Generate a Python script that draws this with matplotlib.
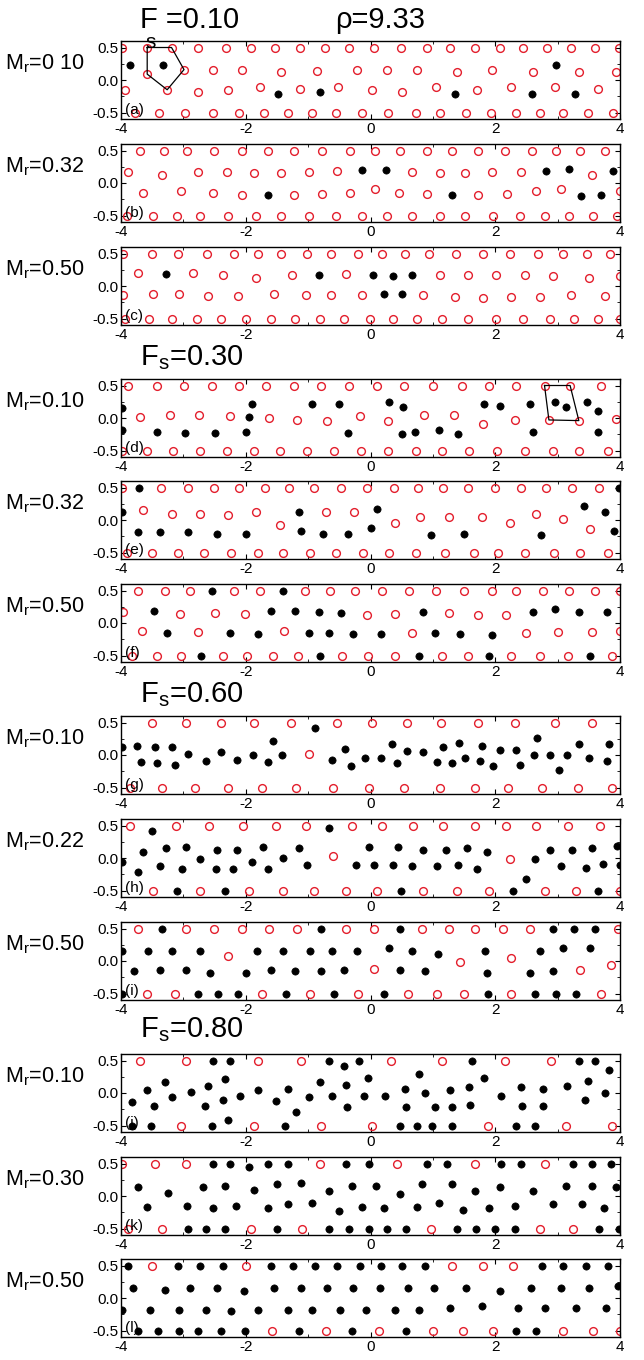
import numpy as np
import matplotlib
matplotlib.use("Agg")
import matplotlib.pyplot as plt
from matplotlib.ticker import MultipleLocator

plt.rcParams["font.family"] = ["Liberation Sans", "DejaVu Sans"]
plt.rcParams["mathtext.fontset"] = "custom"
plt.rcParams["mathtext.rm"] = "Liberation Sans"
plt.rcParams["mathtext.it"] = "Liberation Sans:italic"
plt.rcParams["axes.unicode_minus"] = False

# ---- data (x, y); top row y=0.5, bottom row y=-0.5 ----
# panel (a)  Fs=0.10, Mr=0.10
a_open_top = [-3.98, -3.58, -3.19, -2.76, -2.32, -1.91, -1.53, -1.13, -0.73, -0.35, 0.05,
              0.49, 0.90, 1.28, 1.67, 2.07, 2.45, 2.83, 3.21, 3.60, 3.99]
a_open_bot = [-3.78, -3.39, -2.98, -2.52, -2.11, -1.71, -1.32, -0.93, -0.55, -0.13, 0.28,
              0.73, 1.12, 1.53, 1.93, 2.33, 2.72, 3.09, 3.48, 3.88]
a_open_mid = [(-3.58, 0.09), (-2.99, 0.16), (-2.52, 0.16), (-2.06, 0.16), (-1.43, 0.12),
              (-0.86, 0.14), (-0.21, 0.16), (0.26, 0.16), (0.75, 0.16), (1.39, 0.12),
              (1.94, 0.16), (2.60, 0.12), (3.34, 0.12), (3.94, 0.12),
              (-3.93, -0.15), (-3.26, -0.15), (-2.76, -0.18), (-2.28, -0.16), (-1.77, -0.11),
              (-1.13, -0.14), (-0.52, -0.10), (0.03, -0.16), (0.51, -0.18), (1.05, -0.11),
              (1.70, -0.16), (2.25, -0.10), (2.95, -0.10), (3.65, -0.14)]
a_fill_top = []
a_fill_bot = []
a_fill_mid = [(-3.85, 0.23), (-3.33, 0.23), (2.98, 0.23), (-1.48, -0.22), (-0.81, -0.19),
              (1.36, -0.22), (2.59, -0.22), (3.28, -0.22)]
a_poly = [(-3.58, 0.5), (-3.19, 0.5), (-2.99, 0.16), (-3.26, -0.15), (-3.58, 0.09)]

# panel (b)  Mr=0.32
b_open_top = [-3.70, -3.31, -2.94, -2.51, -2.06, -1.64, -1.22, -0.78, -0.33, 0.07, 0.47,
              0.90, 1.30, 1.72, 2.16, 2.59, 2.97, 3.36, 3.76]
b_open_bot = [-3.91, -3.49, -3.10, -2.73, -2.29, -1.84, -1.44, -0.98, -0.56, -0.13, 0.26,
              0.67, 1.11, 1.52, 1.96, 2.39, 2.79, 3.18, 3.56, 3.95]
b_open_mid = [(-3.88, 0.17), (-3.35, 0.13), (-2.76, 0.17), (-2.30, 0.17), (-1.86, 0.15),
              (-1.44, 0.15), (-0.98, 0.17), (-0.54, 0.18), (0.66, 0.17), (1.11, 0.15),
              (1.51, 0.15), (1.95, 0.17), (2.41, 0.17), (3.55, 0.13),
              (-3.64, -0.15), (-3.04, -0.13), (-2.53, -0.16), (-2.06, -0.19), (-1.23, -0.19),
              (-0.77, -0.17), (-0.33, -0.15), (0.07, -0.09), (0.45, -0.15), (0.90, -0.17),
              (1.72, -0.19), (2.19, -0.17), (2.65, -0.13), (3.06, -0.09), (4.0, -0.13)]
b_fill_top = []
b_fill_bot = []
b_fill_mid = [(-0.13, 0.20), (0.25, 0.20), (2.81, 0.18), (3.18, 0.22), (3.89, 0.18),
              (-1.65, -0.18), (1.30, -0.18), (3.38, -0.20), (3.70, -0.18)]

# panel (c)  Mr=0.50
c_open_top = [-3.97, -3.50, -3.08, -2.62, -2.19, -1.81, -1.43, -1.02, -0.63, -0.20, 0.18,
              0.55, 0.94, 1.37, 1.80, 2.24, 2.68, 3.08, 3.47, 3.84]
c_open_bot = [-3.94, -3.55, -3.18, -2.78, -2.39, -1.99, -1.60, -1.21, -0.81, -0.42, -0.01,
              0.36, 0.75, 1.14, 1.57, 2.02, 2.45, 2.88, 3.26, 3.65, 4.0]
c_open_mid = [(-3.73, 0.20), (-2.84, 0.20), (-2.36, 0.17), (-1.84, 0.13), (-1.26, 0.17),
              (-0.40, 0.18), (1.11, 0.17), (1.57, 0.17), (2.02, 0.17), (2.47, 0.17),
              (2.93, 0.16), (3.50, 0.13), (4.0, 0.16),
              (-3.97, -0.14), (-3.49, -0.12), (-3.07, -0.13), (-2.60, -0.16), (-2.12, -0.16),
              (-1.55, -0.13), (-1.03, -0.14), (-0.64, -0.14), (-0.14, -0.14), (0.84, -0.14),
              (1.35, -0.17), (1.80, -0.18), (2.25, -0.17), (2.71, -0.17), (3.21, -0.14),
              (3.76, -0.16)]
c_fill_top = []
c_fill_bot = []
c_fill_mid = [(-3.28, 0.19), (-0.83, 0.17), (0.04, 0.17), (0.36, 0.15), (0.67, 0.17),
              (0.21, -0.13), (0.51, -0.12)]

# panel (d)  Fs=0.30, Mr=0.10
d_open_top = [-3.88, -3.43, -2.99, -2.54, -2.11, -1.67, -1.22, -0.79, -0.34, 0.10, 0.54,
              1.01, 1.47, 1.90, 2.33, 2.79, 3.20, 3.69]
d_open_bot = [-3.98, -3.58, -3.17, -2.74, -2.30, -1.87, -1.45, -1.02, -0.59, -0.16, 0.28,
              0.73, 1.14, 1.58, 2.03, 2.48, 2.93, 3.35, 3.80]
d_open_mid = [(-3.70, 0.01), (-3.22, 0.04), (-2.75, 0.05), (-2.26, 0.03), (-1.62, 0.00),
              (-1.18, -0.03), (-0.69, -0.05), (-0.17, 0.03), (0.28, -0.05), (0.85, 0.05),
              (1.34, 0.05), (1.81, -0.09), (2.32, -0.03), (2.86, -0.03), (3.34, -0.04),
              (3.94, -0.01)]
d_fill_top = []
d_fill_bot = []
d_fill_mid = [(-3.98, 0.15), (-1.90, 0.21), (-0.94, 0.21), (-0.51, 0.21), (0.29, 0.25),
              (0.52, 0.17), (1.82, 0.21), (2.07, 0.19), (2.56, 0.21), (2.96, 0.25),
              (3.14, 0.17), (3.47, 0.25), (3.64, 0.11), (-1.95, 0.01),
              (-3.99, -0.19), (-3.43, -0.21), (-2.97, -0.23), (-2.50, -0.23), (-1.99, -0.21),
              (-0.36, -0.23), (0.50, -0.25), (0.72, -0.21), (1.10, -0.19), (1.40, -0.25),
              (2.60, -0.21), (3.64, -0.21)]
d_poly = [(2.79, 0.5), (3.20, 0.5), (3.34, -0.04), (2.86, -0.03)]

# panel (e)  Mr=0.32
e_open_top = [-3.99, -3.36, -2.93, -2.51, -2.11, -1.69, -1.30, -0.90, -0.48, -0.05, 0.37,
              0.76, 1.17, 1.57, 2.00, 2.41, 2.81, 3.23, 3.66]
e_open_bot = [-3.91, -3.51, -3.09, -2.67, -2.23, -1.81, -1.40, -0.97, -0.55, -0.12, 0.30,
              0.73, 1.20, 1.66, 2.05, 2.48, 2.94, 3.36, 3.81]
e_open_mid = [(-3.64, 0.16), (-3.18, 0.10), (-2.73, 0.10), (-2.28, 0.07), (-1.83, 0.12),
              (-0.72, 0.12), (-0.27, 0.12), (0.79, 0.05), (1.26, 0.05), (1.79, 0.04),
              (2.65, 0.10), (3.09, 0.01), (-1.45, -0.07), (0.39, -0.05), (2.24, -0.04),
              (3.52, -0.14)]
e_fill_top = [-3.71, 3.98]
e_fill_bot = []
e_fill_mid = [(-3.98, 0.13), (-1.14, 0.13), (0.10, 0.17), (3.43, 0.21), (3.76, 0.13),
              (-3.73, -0.19), (-3.37, -0.19), (-2.93, -0.19), (-2.46, -0.21), (-1.99, -0.21),
              (-1.11, -0.17), (-0.76, -0.21), (-0.36, -0.21), (0.00, -0.13), (0.97, -0.23),
              (1.50, -0.21), (2.73, -0.23), (3.91, -0.17)]

# panel (f)  Mr=0.50
f_open_top = [-3.72, -3.30, -2.89, -2.19, -1.77, -1.05, -0.65, -0.25, 0.18, 0.62, 1.05,
              1.50, 1.94, 2.34, 2.76, 3.19, 3.60, 4.0]
f_open_bot = [-3.83, -3.42, -3.04, -2.37, -1.98, -1.57, -1.16, -0.45, -0.04, 0.39, 1.14,
              1.56, 2.26, 2.72, 3.17, 3.87]
f_open_mid = [(-3.96, 0.17), (-3.06, 0.14), (-2.49, 0.16), (-2.01, 0.14), (-0.06, 0.13),
              (0.39, 0.14), (1.26, 0.16), (1.72, 0.12), (2.17, 0.12), (-3.67, -0.12),
              (-2.76, -0.14), (-1.39, -0.13), (0.66, -0.16), (2.49, -0.16), (3.00, -0.14),
              (3.55, -0.14), (4.0, -0.12)]
f_fill_top = [-2.54, -1.41]
f_fill_bot = [-2.71, -0.81, 0.78, 1.90, 3.52]
f_fill_mid = [(-3.47, 0.19), (-1.59, 0.19), (-1.21, 0.19), (-0.83, 0.17), (-0.47, 0.15),
              (0.84, 0.17), (2.60, 0.17), (2.96, 0.21), (3.34, 0.17), (3.79, 0.17),
              (-3.26, -0.15), (-2.25, -0.15), (-1.80, -0.17), (-0.99, -0.15), (-0.66, -0.15),
              (-0.28, -0.17), (0.17, -0.17), (1.04, -0.15), (1.44, -0.17), (1.95, -0.19)]

# panel (g)  Fs=0.60, Mr=0.10
g_open_top = [-3.50, -2.95, -2.40, -1.86, -1.27, -0.54, 0.02, 0.58, 1.13, 1.72, 2.32,
              2.96, 3.55]
g_open_bot = [-3.86, -3.34, -2.81, -2.29, -1.74, -1.19, -0.60, -0.03, 0.54, 1.11, 1.67,
              2.20, 2.75, 3.32, 3.87]
g_open_mid = [(-0.98, 0.01)]
g_fill_top = []
g_fill_bot = []
g_fill_mid = [(-0.89, 0.42), (-3.98, 0.13), (-3.75, 0.14), (-3.68, -0.11), (-3.45, 0.13),
              (-3.43, -0.13), (-3.18, 0.13), (-3.13, -0.15), (-2.92, 0.02), (-2.63, -0.09),
              (-2.40, 0.04), (-2.14, -0.07), (-1.88, 0.0), (-1.65, -0.11), (-1.57, 0.22),
              (-1.42, 0.0), (-0.61, -0.07), (-0.41, 0.10), (-0.32, -0.17), (-0.09, -0.05),
              (0.17, -0.05), (0.34, 0.17), (0.42, -0.13), (0.59, 0.06), (0.84, 0.04),
              (1.06, -0.11), (1.16, 0.12), (1.31, -0.13), (1.42, 0.19), (1.52, -0.05),
              (1.75, -0.09), (1.78, 0.14), (1.97, -0.17), (2.07, 0.08), (2.34, 0.08),
              (2.40, -0.15), (2.62, 0.0), (2.67, 0.26), (2.88, 0.0), (3.03, -0.23),
              (3.15, 0.0), (3.35, 0.17), (3.51, -0.05), (3.79, -0.09), (3.83, 0.17)]

# panel (h)  Mr=0.22
h_open_top = [-3.85, -3.12, -2.59, -2.04, -1.51, -1.03, -0.30, 0.18, 0.68, 1.17, 1.67,
              2.17, 2.65, 3.17, 3.68]
h_open_bot = [-3.49, -2.73, -1.94, -1.41, -0.90, -0.40, 0.11, 0.84, 1.38, 1.90, 2.79,
              3.29, 4.0]
h_open_mid = [(-0.60, 0.03), (2.24, -0.01)]
h_fill_top = []
h_fill_bot = [-3.11, -2.33, 0.49, 2.29, 3.64]
h_fill_mid = [(-3.50, 0.42), (-0.67, 0.46), (-3.98, -0.06), (-3.73, -0.21), (-3.65, 0.10),
              (-3.37, -0.13), (-3.28, 0.15), (-3.03, -0.17), (-2.95, 0.17), (-2.73, -0.02),
              (-2.47, -0.17), (-2.46, 0.13), (-2.20, -0.17), (-2.14, 0.13), (-1.90, -0.06),
              (-1.72, 0.17), (-1.64, -0.17), (-1.40, 0.0), (-1.14, 0.15), (-1.02, -0.11),
              (-0.24, -0.11), (-0.02, 0.17), (0.06, -0.11), (0.36, -0.11), (0.44, 0.17),
              (0.66, -0.13), (0.84, 0.13), (1.06, -0.13), (1.21, 0.13), (1.40, -0.11),
              (1.55, 0.15), (1.70, -0.17), (1.86, 0.10), (2.49, -0.32), (2.64, -0.02),
              (2.88, 0.13), (3.05, -0.13), (3.23, 0.13), (3.45, -0.15), (3.55, 0.15),
              (3.72, -0.09), (3.95, 0.19), (4.0, -0.11)]

# panel (i)  Mr=0.50
i_open_top = [-3.73, -2.95, -2.51, -2.06, -1.62, -1.18, -0.40, 0.05, 0.83, 1.26, 1.68,
              2.13, 2.56, 3.96]
i_open_bot = [-3.59, -3.14, -1.74, -0.97, -0.20, 0.60, 1.07, 1.50, 2.26, 3.69]
i_open_mid = [(-2.28, 0.07), (1.44, -0.02), (2.26, 0.04), (3.86, -0.06), (0.05, -0.12),
              (3.36, -0.14)]
i_fill_top = [-3.35, -0.79, 0.47, 2.92, 3.26, 3.60]
i_fill_bot = [-3.98, -2.77, -2.44, -2.12, -1.36, -0.59, 0.21, 1.88, 2.64, 2.97, 3.30]
i_fill_mid = [(-3.98, 0.16), (-3.56, 0.16), (-3.18, 0.16), (-2.73, 0.16), (-1.82, 0.16),
              (-1.40, 0.16), (-0.97, 0.16), (-0.61, 0.16), (-0.21, 0.16), (0.30, 0.20),
              (0.67, 0.16), (1.08, 0.11), (1.84, 0.16), (2.72, 0.16), (3.09, 0.20),
              (3.52, 0.20), (-3.79, -0.16), (-3.37, -0.14), (-2.96, -0.14), (-2.58, -0.18),
              (-1.99, -0.18), (-1.59, -0.14), (-1.21, -0.16), (-0.79, -0.16), (-0.43, -0.14),
              (0.47, -0.14), (0.87, -0.16), (1.86, -0.18), (2.56, -0.18), (2.92, -0.16)]

# panel (j)  Fs=0.80, Mr=0.10
j_open_top = [-3.69, -2.95, -1.81, -1.11, 0.33, 1.14, 2.16, 2.89]
j_open_bot = [-3.04, -1.86, -0.80, 0.03, 1.89, 3.13, 3.87]
j_open_mid = []
j_fill_top = [-2.52, -2.25, -0.66, -0.19, 1.63, 3.34, 3.60]
j_fill_bot = [-3.83, -3.52, -2.54, -1.37, 0.47, 0.74, 0.99, 1.31, 2.34, 2.64]
j_fill_mid = [(-0.42, 0.41), (0.77, 0.30), (-2.29, -0.42), (-3.83, -0.14), (-3.59, 0.04),
              (-3.47, -0.20), (-3.30, 0.17), (-3.18, -0.06), (-2.88, 0.02), (-2.65, -0.20),
              (-2.61, 0.11), (-2.37, -0.10), (-2.33, 0.21), (-2.10, -0.04), (-1.80, 0.04),
              (-1.52, -0.12), (-1.32, 0.06), (-1.20, -0.29), (-0.99, -0.06), (-0.81, 0.17),
              (-0.61, -0.04), (-0.39, 0.13), (-0.38, -0.22), (-0.04, 0.23), (-0.11, -0.04),
              (0.24, -0.04), (0.55, 0.06), (0.57, -0.22), (0.87, 0.0), (1.04, -0.22),
              (1.27, 0.04), (1.30, -0.22), (1.58, 0.09), (1.60, -0.18), (1.82, 0.23),
              (2.10, -0.04), (2.41, 0.09), (2.43, -0.20), (2.76, 0.06), (2.77, -0.20),
              (3.15, 0.11), (3.44, -0.10), (3.49, 0.19), (3.76, 0.0), (3.83, 0.36)]

# panel (k)  Mr=0.30
k_open_top = [-3.98, -3.46, -2.95, -0.81, 0.43, 1.68, 2.80]
k_open_bot = [-3.88, -3.34, -1.92, -1.10, 0.97, 2.71, 3.25]
k_open_mid = []
k_fill_top = [-2.53, -2.25, -1.65, -1.32, -0.39, -0.02, 0.91, 1.22, 2.10, 2.42, 3.24,
              3.55, 3.86]
k_fill_bot = [-2.92, -2.63, -2.33, -1.50, -0.67, -0.34, -0.02, 0.27, 0.57, 1.38, 1.69,
              1.99, 2.31, 3.66, 3.99]
k_fill_mid = [(-1.95, 0.45), (-3.73, 0.14), (-3.24, 0.05), (-2.69, 0.14), (-2.33, 0.16),
              (-1.87, 0.09), (-1.50, 0.18), (-1.12, 0.20), (-0.66, 0.07), (-0.29, 0.16),
              (0.09, 0.16), (0.47, 0.03), (0.82, 0.18), (1.31, 0.18), (1.67, 0.07),
              (2.07, 0.14), (2.60, 0.07), (3.13, 0.16), (3.55, 0.16), (3.94, 0.14),
              (-3.58, -0.17), (-2.94, -0.15), (-2.53, -0.19), (-2.16, -0.15), (-1.65, -0.19),
              (-1.32, -0.13), (-0.93, -0.11), (-0.51, -0.23), (-0.13, -0.17), (0.21, -0.19),
              (0.74, -0.17), (1.10, -0.11), (1.49, -0.21), (1.90, -0.19), (2.31, -0.15),
              (2.92, -0.13), (3.39, -0.13), (3.75, -0.19)]

# panel (l)  Mr=0.50
l_open_top = [-3.50, -1.99, 1.30, 1.81, 2.29]
l_open_bot = [-1.58, -0.72, 0.14, 1.01, 1.49, 1.97, 3.08, 3.56, 4.0]
l_open_mid = []
l_fill_top = [-3.89, -3.09, -2.74, -2.37, -1.59, -1.25, -0.89, -0.53, -0.17, 0.17, 0.50,
              0.87, 2.75, 3.09, 3.45, 3.81]
l_fill_bot = [-3.73, -3.41, -3.07, -2.76, -2.39, -2.01, -1.14, -0.29, 0.57, 2.33, 2.66]
l_fill_mid = [(-3.80, 0.15), (-3.30, 0.13), (-2.89, 0.15), (-2.46, 0.15), (-2.03, 0.11),
              (-1.55, 0.15), (-1.12, 0.15), (-0.70, 0.15), (-0.28, 0.15), (0.15, 0.15),
              (0.60, 0.15), (1.02, 0.15), (1.53, 0.15), (2.07, 0.11), (2.58, 0.15),
              (3.05, 0.15), (3.51, 0.15), (3.97, 0.18),
              (-3.98, -0.18), (-3.53, -0.18), (-3.07, -0.18), (-2.64, -0.18), (-2.24, -0.20),
              (-1.80, -0.18), (-1.33, -0.18), (-0.93, -0.18), (-0.49, -0.18), (-0.08, -0.18),
              (0.39, -0.18), (0.78, -0.18), (1.27, -0.15), (1.79, -0.13), (2.37, -0.15),
              (2.80, -0.15), (3.30, -0.15), (3.77, -0.15)]

mr_labels = ["0 10", "0.32", "0.50", "0.10", "0.32", "0.50",
             "0.10", "0.22", "0.50", "0.10", "0.30", "0.50"]
fs_titles = ["0.30", "0.60", "0.80"]
rho_text = "ρ=9.33"

panels = [
    (a_open_top, a_open_mid, a_open_bot, a_fill_top, a_fill_mid, a_fill_bot),
    (b_open_top, b_open_mid, b_open_bot, b_fill_top, b_fill_mid, b_fill_bot),
    (c_open_top, c_open_mid, c_open_bot, c_fill_top, c_fill_mid, c_fill_bot),
    (d_open_top, d_open_mid, d_open_bot, d_fill_top, d_fill_mid, d_fill_bot),
    (e_open_top, e_open_mid, e_open_bot, e_fill_top, e_fill_mid, e_fill_bot),
    (f_open_top, f_open_mid, f_open_bot, f_fill_top, f_fill_mid, f_fill_bot),
    (g_open_top, g_open_mid, g_open_bot, g_fill_top, g_fill_mid, g_fill_bot),
    (h_open_top, h_open_mid, h_open_bot, h_fill_top, h_fill_mid, h_fill_bot),
    (i_open_top, i_open_mid, i_open_bot, i_fill_top, i_fill_mid, i_fill_bot),
    (j_open_top, j_open_mid, j_open_bot, j_fill_top, j_fill_mid, j_fill_bot),
    (k_open_top, k_open_mid, k_open_bot, k_fill_top, k_fill_mid, k_fill_bot),
    (l_open_top, l_open_mid, l_open_bot, l_fill_top, l_fill_mid, l_fill_bot),
]
letters = "abcdefghijkl"
polys = {0: a_poly, 3: d_poly}


def collect(top, mid, bot):
    xs = list(top) + [p[0] for p in mid] + list(bot)
    ys = [0.5] * len(top) + [p[1] for p in mid] + [-0.5] * len(bot)
    return xs, ys


W, H = 644, 1360
fig = plt.figure(figsize=(W / 100, H / 100), dpi=100)
red = "#e31e2c"

# pixel layout
tops = [41, 144, 247, 379, 481, 584, 716, 819, 922, 1054, 1157, 1259]
ax_h = 78
ax_l, ax_r = 121, 620

for n, top in enumerate(tops):
    ax = fig.add_axes([ax_l / W, 1 - (top + ax_h) / H, (ax_r - ax_l) / W, ax_h / H])
    o_top, o_mid, o_bot, f_top, f_mid, f_bot = panels[n]
    ox, oy = collect(o_top, o_mid, o_bot)
    fx, fy = collect(f_top, f_mid, f_bot)
    ax.plot(ox, oy, "o", ms=5.6, mfc="none", mec=red, mew=1.0, ls="none")
    ax.plot(fx, fy, "o", ms=5.2, mfc="black", mec="black", mew=0.5, ls="none")
    if n in polys:
        pts = polys[n] + [polys[n][0]]
        ax.plot([p[0] for p in pts], [p[1] for p in pts], color="black", lw=0.9)
    ax.set_xlim(-4, 4)
    ax.set_ylim(-0.6, 0.6)
    ax.xaxis.set_major_locator(MultipleLocator(2))
    ax.xaxis.set_minor_locator(MultipleLocator(1))
    ax.yaxis.set_major_locator(MultipleLocator(0.5))
    ax.yaxis.set_minor_locator(MultipleLocator(0.25))
    ax.set_yticks([-0.5, 0.0, 0.5])
    ax.set_yticklabels(["-0.5", "0.0", "0.5"])
    ax.tick_params(which="both", direction="in", top=True, right=True, labelsize=11,
                   pad=2)
    ax.tick_params(which="major", length=3.5)
    ax.tick_params(which="minor", length=2)
    for s in ax.spines.values():
        s.set_linewidth(1.0)
    ax.text(-3.94, -0.46, "(%s)" % letters[n], fontsize=11, va="center", ha="left")
    fig.text(5 / W, 1 - (top + 23) / H, "M$_\\mathrm{r}$=" + mr_labels[n],
             fontsize=15.5, va="center", ha="left")

# top titles
fig.text(140 / W, 1 - 20 / H, "F =0.10", fontsize=21, va="center", ha="left")
fig.text(145 / W, 1 - 43 / H, "s", fontsize=15, va="center", ha="left")
fig.text(335 / W, 1 - 20 / H, rho_text, fontsize=21, va="center", ha="left")
for y_px, fs in zip([358, 695, 1030], fs_titles):
    fig.text(140 / W, 1 - y_px / H, "F$_\\mathrm{s}$=" + fs, fontsize=21,
             va="center", ha="left")

fig.savefig("out.png", dpi=100)
